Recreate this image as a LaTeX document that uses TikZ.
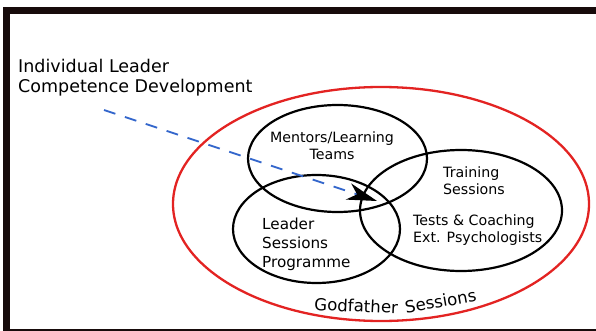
\documentclass[tikz,border=0pt]{standalone}
\usepackage{fontspec}
\setmainfont{DejaVu Sans}
\usetikzlibrary{shapes.geometric,arrows.meta}
\definecolor{framec}{HTML}{170B0B}
\definecolor{redc}{HTML}{E32322}
\definecolor{bluec}{HTML}{3366CC}
\tikzset{
  ring/.style={ellipse, draw=black, line width=2.2pt, inner sep=0pt},
  outerring/.style={ellipse, draw=redc, line width=2.3pt, inner sep=0pt},
  lbl/.style={inner sep=0pt, font=\fontsize{14.2}{17}\selectfont},
  godlbl/.style={inner sep=0pt, anchor=base west, font=\fontsize{16.6}{20}\selectfont},
  framebar/.style={fill=framec, draw=none}
}
\begin{document}
\begin{tikzpicture}[x=1pt,y=-1pt]
\useasboundingbox (0,0) rectangle (596,331);
\fill[white] (0,0) rectangle (596,331);
% frame
\fill[framebar] (3,7) rectangle (596,14);
\fill[framebar] (3,7) rectangle (10,331);
\fill[framebar] (3,329) rectangle (596,331);
% ellipses
\node[outerring, minimum width=416pt, minimum height=234pt] (god) at (381,204) {};
\node[ring, minimum width=179pt, minimum height=107pt] (ment) at (337.5,158.5) {};
\node[ring, minimum width=167pt, minimum height=108pt] (lead) at (316.5,229) {};
\node[ring, minimum width=202pt, minimum height=121pt] (train) at (461,210.5) {};
% texts
\node[inner sep=0pt, anchor=west, align=left, font=\fontsize{17.5}{20.3}\selectfont] (title) at (18,78) {Individual Leader\\Competence Development};
\node[lbl, align=center] (menttxt) at (332,146) {Mentors/Learning\\Teams};
\node[lbl, anchor=west, align=left] (traintxt) at (443,181) {Training\\Sessions};
\node[lbl, anchor=west, align=left] (testtxt) at (413,230.2) {Tests \& Coaching\\Ext. Psychologists};
\node[inner sep=0pt, anchor=west, align=left, font=\fontsize{15.2}{19}\selectfont] (leadtxt) at (262,244) {Leader\\Sessions\\Programme};
% curved label
\node[godlbl, rotate=-2.5] (godA) at (314,310) {Godfather};
\node[godlbl, rotate=10] (godB) at (406,313.5) {Sessions};
% arrow
\coordinate (astart) at (104,110);
\coordinate (aend) at (377,201);
\draw[bluec, line width=1.8pt, dash pattern=on 12pt off 10pt, -{Stealth[black, length=30pt, width=17pt, inset=9pt]}] (astart) -- (aend);
\end{tikzpicture}
\end{document}
